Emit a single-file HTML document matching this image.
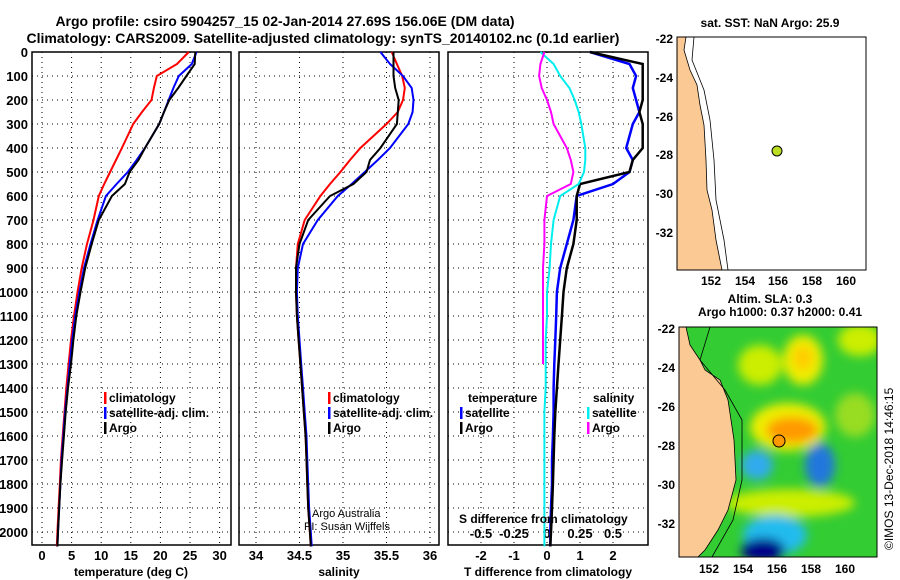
<!DOCTYPE html>
<html><head><meta charset="utf-8"><style>
body{margin:0;background:#fff}
svg{display:block;font-family:"Liberation Sans",sans-serif;font-weight:bold}
</style></head><body>
<svg id="s" width="900" height="580" viewBox="0 0 900 580">
<defs>
<filter id="bl" x="-50%" y="-50%" width="200%" height="200%"><feGaussianBlur stdDeviation="5"/></filter>
<clipPath id="mc"><rect x="679" y="327" width="198" height="230"/></clipPath>
</defs>
<g font-size="14" text-anchor="middle">
<text x="285" y="26">Argo profile: csiro 5904257_15 02-Jan-2014 27.69S 156.06E (DM data)</text>
<text x="323" y="43">Climatology: CARS2009. Satellite-adjusted climatology: synTS_20140102.nc (0.1d earlier)</text>
</g>
<g id="plots"></g>
<!-- top map -->
<g>
<text x="770" y="27" font-size="12" text-anchor="middle">sat. SST: NaN Argo: 25.9</text>
<rect x="677" y="37" width="189" height="233" fill="#fff"/>
<path d="M677,37 L686,37 L684,50 L690,70 L697,85 L700,105 L704,125 L706,160 L707,190 L712,210 L716,240 L720,260 L722,270 L677,270Z" fill="#fbc994" stroke="#000" stroke-width="0.8"/>
<path d="M694,37 L692,60 L704,90 L710,120 L714,160 L716,200 L724,240 L728,270" fill="none" stroke="#000" stroke-width="0.8"/>
<circle cx="777" cy="151" r="5" fill="#bbdd22" stroke="#000"/>
<rect x="677" y="37" width="189" height="233" fill="none" stroke="#000"/>
<g font-size="12" text-anchor="end">
<text x="673" y="43">-22</text><text x="673" y="82">-24</text><text x="673" y="121">-26</text><text x="673" y="159">-28</text><text x="673" y="198">-30</text><text x="673" y="237">-32</text></g>
<g font-size="12" text-anchor="middle">
<text x="711" y="285">152</text><text x="745" y="285">154</text><text x="778" y="285">156</text><text x="812" y="285">158</text><text x="846" y="285">160</text></g>
</g>
<!-- bottom map -->
<g>
<text x="770" y="303" font-size="12" text-anchor="middle">Altim. SLA: 0.3</text>
<text x="780" y="316" font-size="12" text-anchor="middle">Argo h1000: 0.37 h2000: 0.41</text>
<g clip-path="url(#mc)">
<rect x="679" y="327" width="198" height="230" fill="#33cc33"/>
<g filter="url(#bl)">
<ellipse cx="760" cy="365" rx="22" ry="20" fill="#ccee00"/>
<ellipse cx="803" cy="360" rx="20" ry="25" fill="#eeee00"/>
<ellipse cx="803" cy="358" rx="10" ry="12" fill="#ffcc00"/>
<ellipse cx="788" cy="427" rx="38" ry="24" fill="#eeee00"/>
<ellipse cx="792" cy="430" rx="26" ry="13" fill="#ff9900"/>
<ellipse cx="757" cy="465" rx="16" ry="15" fill="#33aaee"/>
<ellipse cx="820" cy="465" rx="15" ry="22" fill="#2277dd"/>
<ellipse cx="860" cy="340" rx="22" ry="16" fill="#ccee00"/>
<ellipse cx="790" cy="503" rx="65" ry="14" fill="#ccee00"/>
<ellipse cx="855" cy="415" rx="20" ry="22" fill="#99dd22"/>
<ellipse cx="775" cy="535" rx="32" ry="20" fill="#22bbee"/>
<ellipse cx="763" cy="550" rx="22" ry="12" fill="#000088"/>
</g>
<path d="M679,327 L686,327 L690,345 L700,360 L705,370 L720,380 L728,400 L734,440 L736,480 L728,510 L718,530 L705,550 L698,557 L679,557Z" fill="#fbc994" stroke="#000" stroke-width="0.8"/>
<path d="M710,327 L700,360 L725,390 L742,420 L742,480 L733,520 L712,557" fill="none" stroke="#000" stroke-width="0.8"/>
<circle cx="779" cy="441" r="6" fill="#ff9900" stroke="#000"/>
</g>
<rect x="679" y="327" width="198" height="230" fill="none" stroke="#000"/>
<g font-size="12" text-anchor="end">
<text x="675" y="333">-22</text><text x="675" y="372">-24</text><text x="675" y="411">-26</text><text x="675" y="450">-28</text><text x="675" y="489">-30</text><text x="675" y="528">-32</text></g>
<g font-size="12" text-anchor="middle">
<text x="709" y="573">152</text><text x="743" y="573">154</text><text x="777" y="573">156</text><text x="811" y="573">158</text><text x="845" y="573">160</text></g>
<text transform="translate(893,550) rotate(-90)" font-size="12" font-weight="normal">©IMOS 13-Dec-2018 14:46:15</text>
</g>
</svg>
<script>
const depths=[0,50,100,150,200,250,300,400,450,500,550,600,700,800,900,1000,1100,1200,1300,1400,1500,1600,1700,1800,1900,2000,2060];
const tempClim=[24.8,22.8,19.4,18.9,18.5,16.9,15.4,13.5,12.5,11.5,10.5,9.6,8.7,7.6,6.7,6.0,5.4,4.9,4.5,4.1,3.8,3.5,3.2,3.0,2.8,2.6,2.5];
const tempSat=[26.1,25.3,23.1,22.2,21.4,20.6,19.8,17.4,16.0,14.5,12.6,10.8,9.4,8.2,7.1,6.3,5.6,5.1,4.7,4.3,3.9,3.6,3.3,3.1,2.9,2.7,2.6];
const tempArgo=[25.9,25.8,24.4,23.0,21.5,20.6,19.8,17.4,16.3,14.8,14.0,11.8,9.6,8.4,7.3,6.5,5.8,5.3,4.9,4.4,4.0,3.7,3.4,3.1,2.9,2.7,2.6];
const salClim=[35.56,35.62,35.68,35.71,35.69,35.63,35.50,35.20,35.08,34.97,34.85,34.74,34.56,34.48,34.46,34.46,34.47,34.49,34.51,34.53,34.55,34.57,34.58,34.59,34.60,34.62,34.63];
const salSat=[35.43,35.54,35.69,35.79,35.81,35.80,35.75,35.54,35.40,35.25,35.10,34.94,34.71,34.54,34.48,34.47,34.48,34.50,34.52,34.54,34.56,34.58,34.59,34.60,34.61,34.63,34.64];
const salArgo=[35.58,35.58,35.58,35.60,35.64,35.63,35.62,35.43,35.31,35.27,35.12,34.85,34.60,34.50,34.46,34.46,34.47,34.49,34.51,34.53,34.55,34.57,34.58,34.59,34.60,34.62,34.63];
const dTSat=[1.3,2.5,2.7,2.6,2.7,2.8,2.6,2.4,2.6,2.5,2.0,0.9,0.8,0.6,0.4,0.3,0.28,0.25,0.22,0.2,0.2,0.18,0.15,0.15,0.12,0.1,0.1];
const dTArgo=[1.3,2.9,2.9,2.9,2.9,2.8,2.9,2.9,2.6,2.5,1.0,0.9,0.9,0.8,0.6,0.5,0.45,0.4,0.35,0.3,0.25,0.22,0.2,0.18,0.15,0.12,0.1];
const dSSat=[-0.05,0.05,0.1,0.17,0.21,0.24,0.26,0.29,0.29,0.28,0.24,0.1,0.05,0.03,0.02,0.0,0.0,-0.01,-0.01,-0.01,-0.02,-0.02,-0.02,-0.02,-0.02,-0.02,-0.02];
const dSArgo=[-0.02,-0.05,-0.06,-0.04,0.0,0.03,0.05,0.15,0.18,0.2,0.18,0.0,-0.02,-0.02,-0.03,-0.03,-0.03,-0.03,-0.03];
const depthTicks=[0,100,200,300,400,500,600,700,800,900,1000,1100,1200,1300,1400,1500,1600,1700,1800,1900,2000];
const tTicks=[0,5,10,15,20,25,30];
const sTicks=[34,34.5,35,35.5,36];
const dtTicks=[-2,-1,0,1,2];
const dsTicks=[-0.5,-0.25,0,0.25,0.5];
const NS='http://www.w3.org/2000/svg';
const G=document.getElementById('plots');
function mk(t,a,p){const e=document.createElementNS(NS,t);for(const k in a)e.setAttribute(k,a[k]);(p||G).appendChild(e);return e;}
const Y0=52,YB=545;
const y=d=>Y0+d*0.24;
const xT=v=>42+v*5.92, xS=v=>256+(v-34)*87, xDT=v=>547+v*33, xDS=v=>547+v*132;
const panels=[[32,231],[239,439],[448,648]];
panels.forEach(([a,b],i)=>{
  const g=mk('g',{});
  
  
  depthTicks.forEach(d=>{if(d>0)mk('line',{x1:a,x2:b,y1:y(d),y2:y(d),stroke:'#000','stroke-dasharray':'1,4','stroke-width':1},g);});
  mk('rect',{x:a,y:Y0,width:b-a,height:YB-Y0,fill:'none',stroke:'#000','stroke-width':1.5},g);
});
const yl=mk('g',{'font-size':13,'text-anchor':'end'});


depthTicks.forEach(d=>{const t=mk('text',{x:28,y:y(d)+5},yl);t.textContent=d;});
function vgrid(ticks,f,ty,gname){
  const g=mk('g',{'font-size':13,'text-anchor':'middle'});
  
  
  ticks.forEach(v=>{const x=f(v);
    mk('line',{x1:x,x2:x,y1:Y0,y2:YB,stroke:'#000','stroke-dasharray':'1,4'},g);
    const t=mk('text',{x:x,y:ty},g);t.textContent=v;});
}
vgrid(tTicks,xT,560,'temperature-axis');
vgrid(sTicks,xS,560,'salinity-axis');
vgrid(dtTicks,xDT,560,'t-diff-axis');
vgrid(dsTicks,xDS,538,'s-diff-axis');
function line(vals,f,col,name,w){
  const pts=vals.map((v,i)=>f(v).toFixed(1)+','+y(depths[i]).toFixed(1)).join(' ');
  const p=mk('polyline',{points:pts,fill:'none',stroke:col,'stroke-width':w||2});
  
  
}
line(tempClim,xT,'#ff0000','temp-climatology-line');
line(tempSat,xT,'#0000ff','temp-satellite-line');
line(tempArgo,xT,'#000','temp-argo-line');
line(salClim,xS,'#ff0000','sal-climatology-line');
line(salSat,xS,'#0000ff','sal-satellite-line');
line(salArgo,xS,'#000','sal-argo-line');
line(dTSat,xDT,'#0000ff','tdiff-satellite-line',2.5);
line(dTArgo,xDT,'#000','tdiff-argo-line',2.5);
line(dSSat,xDS,'#00eeee','sdiff-satellite-line');
line(dSArgo,xDS,'#ff00ff','sdiff-argo-line');
function txt(x,yy,s,o,name){const t=mk('text',Object.assign({x:x,y:yy,'font-size':13},o||{}));t.textContent=s;return t;}
function leg(x,yy,col,s,name){mk('rect',{x:x,y:yy-10,width:2.5,height:12,fill:col});txt(x+5,yy,s,{'font-size':12},name);}
leg(104,402,'#ff0000','climatology','legend-climatology');
leg(104,417,'#0000ff','satellite-adj. clim.','legend-satellite');
leg(104,432,'#000','Argo','legend-argo');
leg(328,402,'#ff0000','climatology','legend2-climatology');
leg(328,417,'#0000ff','satellite-adj. clim.','legend2-satellite');
leg(328,432,'#000','Argo','legend2-argo');
txt(468,402,'temperature',{'font-size':12},'legend-temperature-title');
leg(460,417,'#0000ff','satellite','legend-t-satellite');
leg(460,432,'#000','Argo','legend-t-argo');
txt(593,402,'salinity',{'font-size':12},'legend-salinity-title');
leg(587,417,'#00eeee','satellite','legend-s-satellite');
leg(587,432,'#ff00ff','Argo','legend-s-argo');
txt(312,517,'Argo Australia',{'font-size':11,'font-weight':'normal'},'credit-argo-australia');
txt(304,530,'PI: Susan Wijffels',{'font-size':11,'font-weight':'normal'},'credit-pi');
txt(459,523,'S difference from climatology',{'font-size':12},'s-diff-axis-title');
txt(131,576,'temperature (deg C)',{'font-size':12,'text-anchor':'middle'},'temperature-axis-title');
txt(339,576,'salinity',{'font-size':12,'text-anchor':'middle'},'salinity-axis-title');
txt(548,576,'T difference from climatology',{'font-size':12,'text-anchor':'middle'},'t-diff-axis-title');
</script>
</body></html>
